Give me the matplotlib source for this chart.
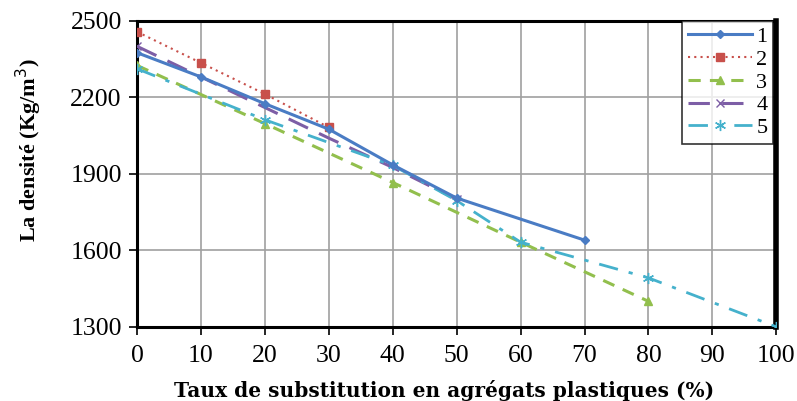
import matplotlib.pyplot as plt

plt.rcParams['font.family'] = ['Liberation Serif', 'DejaVu Serif']

# Data
x1 = [0, 10, 20, 30, 40, 50, 70]
y1 = [2375, 2280, 2175, 2075, 1935, 1805, 1640]

x2 = [0, 10, 20, 30]
y2 = [2457, 2335, 2213, 2082]

x3 = [0, 20, 40, 60, 80]
y3 = [2325, 2097, 1866, 1632, 1400]

x4 = [0, 10, 20, 30, 40, 50]
y4 = [2400, 2280, 2160, 2040, 1925, 1800]

x5 = [0, 20, 40, 50, 60, 80, 100]
y5 = [2312, 2112, 1933, 1795, 1632, 1492, 1300]

labels = ['1', '2', '3', '4', '5']

fig = plt.figure(figsize=(7.97, 4.01), dpi=100)
ax = fig.add_axes([0.172, 0.185, 0.802, 0.763])

ax.plot(x1, y1, color='#4a7cc4', linestyle='-', linewidth=2.2,
        marker='D', markersize=4, label=labels[0], zorder=5)
ax.plot(x2, y2, color='#c8504b', linestyle=(0, (1, 2)), linewidth=1.5,
        marker='s', markersize=6, label=labels[1], zorder=4)
ax.plot(x3, y3, color='#92bf4d', linestyle=(0, (4, 3)), linewidth=2.2,
        marker='^', markersize=6, label=labels[2], zorder=3)
ax.plot(x4, y4, color='#7d5ea6', linestyle=(0, (7, 4)), linewidth=2.2,
        marker='x', markersize=6, markevery=[0, 5], label=labels[3], zorder=3)
ax.plot(x5, y5, color='#45b1cc', linestyle=(0, (7, 4, 1.5, 4)), linewidth=2.0,
        marker=(6, 2, 0), markersize=8, label=labels[4], zorder=3)

ax.set_xlim(0, 100)
ax.set_ylim(1300, 2500)
ax.set_xticks(range(0, 101, 10))
ax.set_yticks(range(1300, 2501, 300))
ax.grid(True, color='#a0a0a0', linewidth=1.2)
ax.set_axisbelow(True)

ax.tick_params(labelsize=18.5, length=6, width=1.2, direction='out')
ax.tick_params(axis='x', pad=7)
ax.tick_params(axis='y', pad=5)
for side in ['left', 'bottom', 'top']:
    ax.spines[side].set_linewidth(2.2)
ax.spines['right'].set_linewidth(4)

ax.set_xlabel('Taux de substitution en agrégats plastiques (%)',
              fontsize=14.5, fontweight='bold', family='DejaVu Serif')
ax.xaxis.set_label_coords(0.48, -0.175)
ax.set_ylabel('La densité (Kg/m$^3$)', fontsize=16, fontweight='bold')
ax.yaxis.set_label_coords(-0.145, 0.578)

leg = ax.legend(loc='upper right', fontsize=16, frameon=True, fancybox=False,
                edgecolor='black', handlelength=2.9, borderpad=0.25,
                labelspacing=0.1, handletextpad=0.2, borderaxespad=0,
                bbox_to_anchor=(0.995, 1.0))
leg.get_frame().set_linewidth(1.2)

fig.savefig('out.png', dpi=100)
